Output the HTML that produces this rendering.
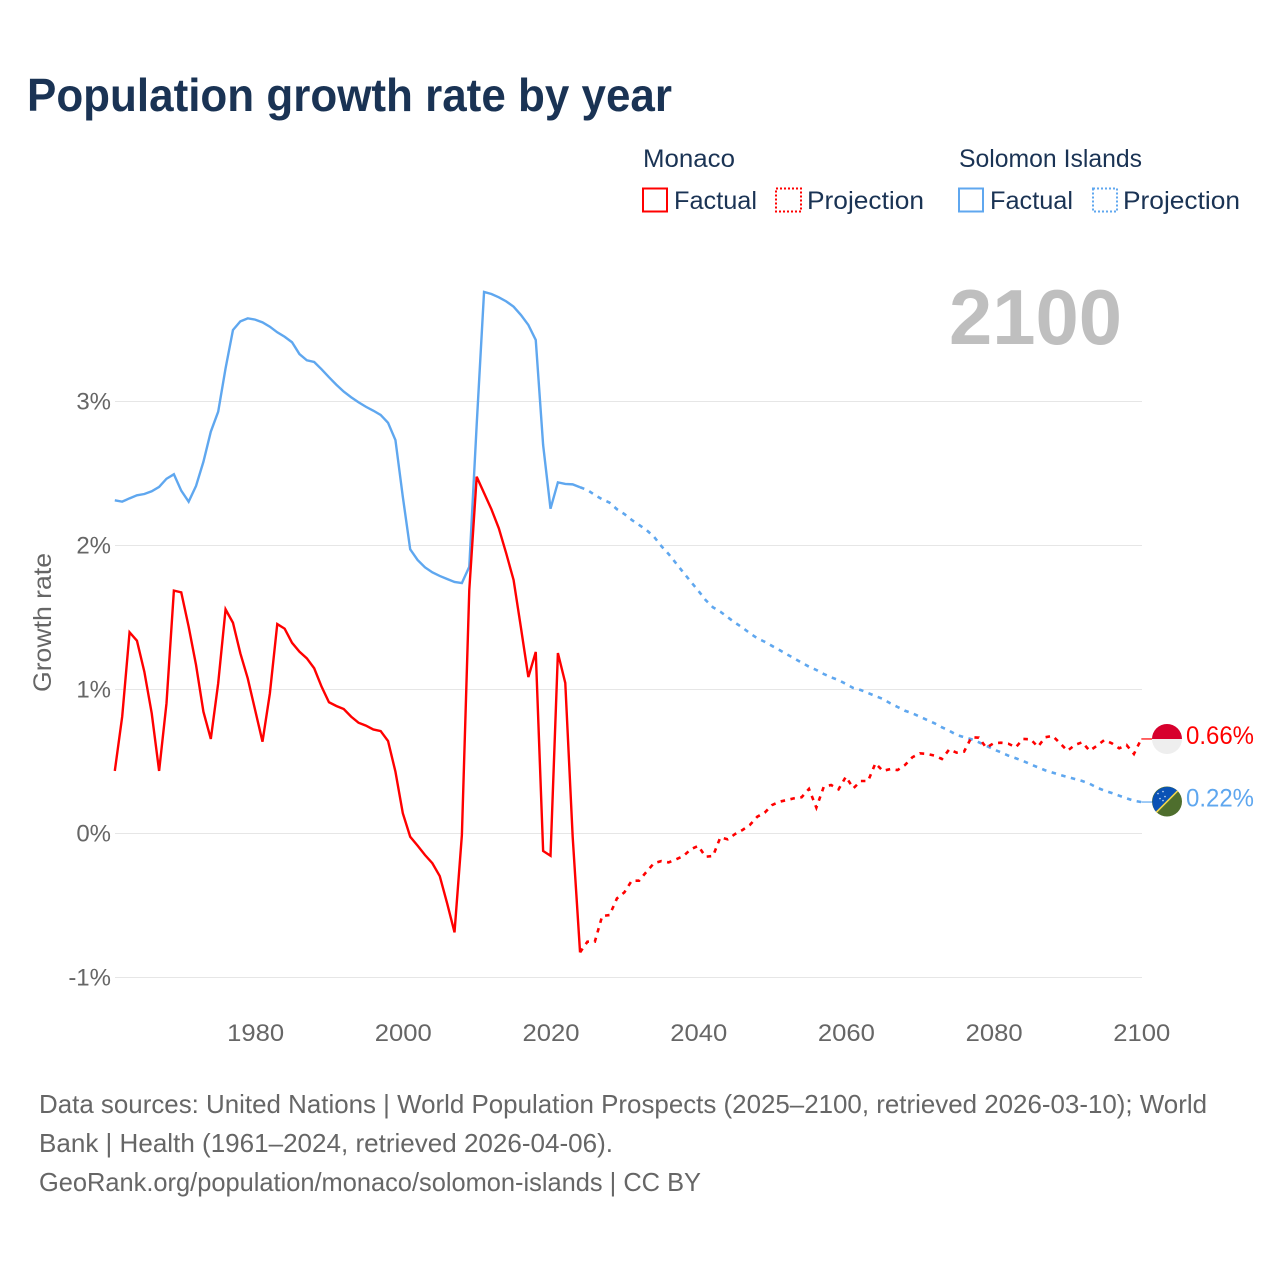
<!DOCTYPE html>
<html lang="en">
<head>
<meta charset="utf-8">
<title>Population growth rate by year</title>
<style>
html,body{margin:0;padding:0;background:#fff;width:1280px;height:1280px;overflow:hidden}
svg{display:block}
text{font-family:"Liberation Sans",sans-serif}
</style>
</head>
<body>
<svg id="chart" xmlns="http://www.w3.org/2000/svg" width="1280" height="1280" viewBox="0 0 1280 1280">
  <rect width="1280" height="1280" fill="#fff"/>
  <text x="27" y="111" font-size="46" font-weight="700" fill="#1a3354" textLength="645" lengthAdjust="spacingAndGlyphs">Population growth rate by year</text>

  <g font-size="25" fill="#1a3354">
    <text x="643" y="167" textLength="92" lengthAdjust="spacingAndGlyphs">Monaco</text>
    <text x="959" y="167" textLength="183" lengthAdjust="spacingAndGlyphs">Solomon Islands</text>
    <rect x="643" y="188.5" width="24" height="23" fill="none" stroke="#ff0000" stroke-width="2"/>
    <text x="674" y="209" textLength="83" lengthAdjust="spacingAndGlyphs">Factual</text>
    <rect x="776" y="188.5" width="25" height="23" fill="none" stroke="#ff0000" stroke-width="2" stroke-dasharray="2 2"/>
    <text x="807" y="209" textLength="117" lengthAdjust="spacingAndGlyphs">Projection</text>
    <rect x="959" y="188.5" width="24" height="23" fill="none" stroke="#5fa7ef" stroke-width="2"/>
    <text x="990" y="209" textLength="83" lengthAdjust="spacingAndGlyphs">Factual</text>
    <rect x="1093" y="188.5" width="24" height="23" fill="none" stroke="#5fa7ef" stroke-width="2" stroke-dasharray="2 2"/>
    <text x="1123" y="209" textLength="117" lengthAdjust="spacingAndGlyphs">Projection</text>
  </g>

  <text x="949" y="344" font-size="78" font-weight="700" fill="#bfbfbf" textLength="173" lengthAdjust="spacingAndGlyphs">2100</text>
  <text transform="translate(51,692) rotate(-90)" font-size="25" fill="#666" textLength="139" lengthAdjust="spacingAndGlyphs">Growth rate</text>

  <g id="grid"></g>
  <g id="yticks"></g>
  <g id="xticks"></g>
  <g id="series"></g>
  <g id="markers"></g>

  <g font-size="26" fill="#666">
    <text x="39" y="1113" textLength="1168" lengthAdjust="spacingAndGlyphs">Data sources: United Nations | World Population Prospects (2025–2100, retrieved 2026-03-10); World</text>
    <text x="39" y="1152" textLength="574" lengthAdjust="spacingAndGlyphs">Bank | Health (1961–2024, retrieved 2026-04-06).</text>
    <text x="39" y="1191" textLength="662" lengthAdjust="spacingAndGlyphs">GeoRank.org/population/monaco/solomon-islands | CC BY</text>
  </g>
</svg>
<script>
const firstFactualYear = 1961;
const firstProjectionYear = 2024;
const xTickLabels = [1980, 2000, 2020, 2040, 2060, 2080, 2100];
const yTickLabels = [-1, 0, 1, 2, 3];

const monacoFactual = [0.438,0.815,1.401,1.342,1.127,0.838,0.438,0.908,1.690,1.678,1.440,1.174,0.849,0.660,1.047,1.560,1.467,1.255,1.081,0.861,0.641,0.977,1.458,1.426,1.328,1.266,1.220,1.151,1.023,0.915,0.889,0.868,0.815,0.773,0.753,0.726,0.715,0.646,0.433,0.144,-0.019,-0.081,-0.146,-0.203,-0.292,-0.481,-0.683,-0.007,1.694,2.481,2.368,2.255,2.123,1.949,1.764,1.431,1.090,1.264,-0.118,-0.151,1.257,1.049,-0.019,-0.822];
const monacoProjection = [-0.822,-0.748,-0.748,-0.569,-0.563,-0.447,-0.405,-0.324,-0.324,-0.262,-0.203,-0.188,-0.197,-0.176,-0.153,-0.106,-0.083,-0.158,-0.153,-0.023,-0.037,0,0.028,0.063,0.120,0.148,0.201,0.224,0.236,0.248,0.255,0.313,0.183,0.328,0.340,0.310,0.398,0.317,0.368,0.368,0.491,0.438,0.451,0.444,0.479,0.533,0.560,0.556,0.544,0.521,0.588,0.565,0.572,0.672,0.669,0.599,0.630,0.634,0.627,0.602,0.660,0.658,0.606,0.672,0.681,0.630,0.578,0.618,0.637,0.578,0.613,0.653,0.630,0.595,0.618,0.556,0.660];
const solomonFactual = [2.317,2.308,2.331,2.352,2.361,2.380,2.410,2.467,2.498,2.384,2.308,2.417,2.585,2.794,2.933,3.234,3.500,3.560,3.581,3.572,3.553,3.523,3.484,3.453,3.415,3.333,3.290,3.278,3.227,3.172,3.120,3.072,3.033,2.998,2.967,2.940,2.910,2.856,2.736,2.342,1.977,1.903,1.852,1.817,1.792,1.771,1.750,1.743,1.856,2.840,3.764,3.750,3.727,3.699,3.662,3.604,3.535,3.431,2.701,2.259,2.442,2.431,2.428,2.408];
const solomonProjection = [2.408,2.389,2.354,2.324,2.301,2.255,2.222,2.181,2.146,2.111,2.065,2.000,1.944,1.880,1.815,1.752,1.690,1.625,1.574,1.544,1.505,1.467,1.433,1.394,1.359,1.335,1.306,1.278,1.248,1.220,1.190,1.162,1.139,1.111,1.088,1.069,1.042,1.014,1.000,0.979,0.958,0.938,0.908,0.882,0.856,0.838,0.815,0.792,0.769,0.741,0.717,0.688,0.672,0.658,0.637,0.613,0.588,0.567,0.544,0.526,0.507,0.484,0.463,0.442,0.426,0.410,0.396,0.382,0.368,0.349,0.322,0.301,0.285,0.266,0.248,0.231,0.222];

const NS = 'http://www.w3.org/2000/svg';
const RED = '#ff0000';
const BLUE = '#5fa7ef';
function xScale(year){ return 114.8 + (year - 1961) * 7.385; }
function yScale(v){ return 834 - v * 144; }
function make(tag, parent, attrs){
  const el = document.createElementNS(NS, tag);
  for (const k in attrs) el.setAttribute(k, attrs[k]);
  parent.appendChild(el);
  return el;
}
function pointsOf(values, startYear){
  return values.map(function(v, i){ return xScale(startYear + i).toFixed(2) + ',' + yScale(v).toFixed(2); }).join(' ');
}

const grid = document.getElementById('grid');
const yticks = document.getElementById('yticks');
const xticks = document.getElementById('xticks');
const series = document.getElementById('series');
const markers = document.getElementById('markers');

yTickLabels.forEach(function(v){
  const line = make('line', grid, {x1: 115, x2: 1142, y1: yScale(v) - 0.5, y2: yScale(v) - 0.5, stroke: '#e6e6e6', 'stroke-width': 1});
  
  
  const t = make('text', yticks, {x: 111, y: yScale(v) + 7.5, 'text-anchor': 'end', 'font-size': 24, fill: '#666'});
  
  
  t.textContent = v + '%';
});

xTickLabels.forEach(function(year){
  const t = make('text', xticks, {x: xScale(year) + 0.5, y: 1041, 'text-anchor': 'middle', 'font-size': 24, fill: '#666', textLength: 57, lengthAdjust: 'spacingAndGlyphs'});
  
  
  t.textContent = year;
});

function drawLine(values, startYear, color, dashed, name){
  const attrs = {points: pointsOf(values, startYear), fill: 'none', stroke: color, 'stroke-width': dashed ? 2.6 : 2.4, 'stroke-linejoin': 'miter'};
  if (dashed) attrs['stroke-dasharray'] = '4.5 5.5';
  const el = make('polyline', series, attrs);
  
  
}
drawLine(solomonFactual, firstFactualYear, BLUE, false, 'line-solomon-factual');
drawLine(solomonProjection, firstProjectionYear, BLUE, true, 'line-solomon-projection');
drawLine(monacoFactual, firstFactualYear, RED, false, 'line-monaco-factual');
drawLine(monacoProjection, firstProjectionYear, RED, true, 'line-monaco-projection');

const lastYear = firstProjectionYear + monacoProjection.length - 1;
const monacoLast = monacoProjection[monacoProjection.length - 1];
const solomonLast = solomonProjection[solomonProjection.length - 1];
const flagX = 1167;

function connector(v, color, name){
  const el = make('line', markers, {x1: xScale(lastYear), x2: flagX - 15, y1: yScale(v), y2: yScale(v), stroke: color, 'stroke-width': 1.2});
  
  
}
connector(monacoLast, RED, 'connector-monaco');
connector(solomonLast, BLUE, 'connector-solomon');

const cm = yScale(monacoLast);
const monacoFlag = make('g', markers, {});


make('circle', monacoFlag, {cx: flagX, cy: cm, r: 15, fill: '#eeeeee'});
make('path', monacoFlag, {d: 'M' + (flagX - 15) + ' ' + cm + ' A15 15 0 0 1 ' + (flagX + 15) + ' ' + cm + ' Z', fill: '#d7002d'});

const cs = yScale(solomonLast) - 0.5;
const solomonFlag = make('g', markers, {});


make('circle', solomonFlag, {cx: flagX, cy: cs, r: 15, fill: '#4e6e2d'});
make('path', solomonFlag, {d: 'M' + (flagX - 10.6) + ' ' + (cs + 10.6) + ' A15 15 0 0 1 ' + (flagX + 10.6) + ' ' + (cs - 10.6) + ' Z', fill: '#0a52b5'});
make('line', solomonFlag, {x1: flagX - 10.6, y1: cs + 10.6, x2: flagX + 10.6, y2: cs - 10.6, stroke: '#f2d64b', 'stroke-width': 1.6});
[[-9,-8],[-4,-10],[-7,-3],[-2,-5],[-4,-1]].forEach(function(p){
  make('circle', solomonFlag, {cx: flagX + p[0], cy: cs + p[1], r: 0.8, fill: '#cfe0f5'});
});

function valueLabel(v, cy, color, name){
  const t = make('text', markers, {x: 1186, y: cy, 'font-size': 25, fill: color, textLength: 68, lengthAdjust: 'spacingAndGlyphs'});
  
  
  t.textContent = v.toFixed(2) + '%';
}
valueLabel(monacoLast, cm + 5, RED, 'value-label-monaco');
valueLabel(solomonLast, cs + 5, BLUE, 'value-label-solomon');
</script>
</body>
</html>
